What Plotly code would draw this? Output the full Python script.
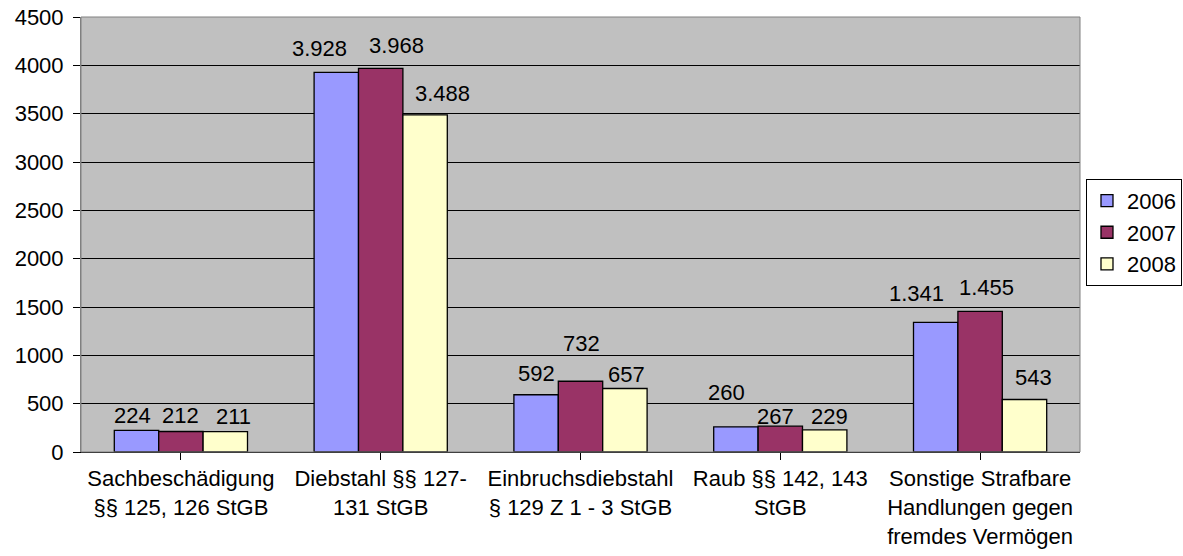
import plotly.graph_objects as go

categories = [
    "Sachbeschädigung<br>§§ 125, 126 StGB",
    "Diebstahl §§ 127-<br>131 StGB",
    "Einbruchsdiebstahl<br>§ 129 Z 1 - 3 StGB",
    "Raub §§ 142, 143<br>StGB",
    "Sonstige Strafbare<br>Handlungen gegen<br>fremdes Vermögen",
]
series_names = ["2006", "2007", "2008"]
values_2006 = [224, 3928, 592, 260, 1341]
values_2007 = [212, 3968, 732, 267, 1455]
values_2008 = [211, 3488, 657, 229, 543]
y_ticks = [0, 500, 1000, 1500, 2000, 2500, 3000, 3500, 4000, 4500]

# styles
colors = ["#9999FF", "#993366", "#FFFFCC"]
label_dx = [[-4, -17, 0, -9, -19], [0, 16, 1, -5, 6], [8, 17, 2, 5, 9]]
label_dy = [[15, 24, 21, 34, 29], [16, 23, 38, 10, 24], [15, 21, 14, 13, 22]]
FONT = "Liberation Sans, Arial, sans-serif"
FS = 22

all_values = [values_2006, values_2007, values_2008]

fig = go.Figure()
for name, vals, col in zip(series_names, all_values, colors):
    fig.add_trace(go.Bar(
        x=list(range(len(categories))), y=vals, name=name,
        marker=dict(color=col, line=dict(color="black", width=1.3)),
    ))

def fmt(v):
    return f"{v:,}".replace(",", ".")

n = len(series_names)
group_frac = 2 / 3
bw = group_frac / n
for j, vals in enumerate(all_values):
    for i, v in enumerate(vals):
        fig.add_annotation(
            x=i + (j - (n - 1) / 2) * bw, y=v, xref="x", yref="y",
            text=fmt(v), showarrow=False,
            xshift=label_dx[j][i], yshift=label_dy[j][i],
            yanchor="middle", xanchor="center",
            font=dict(family=FONT, size=FS, color="black"),
        )

fig.update_layout(
    width=1183, height=556,
    margin=dict(l=81, r=103, t=17, b=104, autoexpand=False),
    paper_bgcolor="white", plot_bgcolor="#C0C0C0",
    barmode="group", bargap=1 - group_frac, bargroupgap=0,
    font=dict(family=FONT, size=FS, color="black"),
    showlegend=True,
    legend=dict(
        x=1.006, xanchor="left", y=0.505, yanchor="middle",
        bordercolor="black", borderwidth=1, bgcolor="white",
        font=dict(family=FONT, size=FS), tracegroupgap=0,
        itemwidth=30,
    ),
)
fig.update_xaxes(
    tickmode="array", tickvals=list(range(len(categories))), ticktext=categories,
    range=[-0.5, len(categories) - 0.5], automargin=False,
    showline=True, linecolor="black", linewidth=1,
    ticks="outside", ticklen=7, tickcolor="black", tickson="boundaries",
    showgrid=False, zeroline=False,
)
fig.update_yaxes(
    range=[0, 4500], tickvals=y_ticks, tickformat="d", automargin=False,
    showline=True, linecolor="#808080", linewidth=1,
    ticks="outside", ticklen=7, tickcolor="black", ticklabelstandoff=5,
    showgrid=True, gridcolor="black", gridwidth=1, zeroline=False,
)
fig.add_shape(type="rect", xref="paper", yref="paper", x0=0, y0=0, x1=1, y1=1,
              line=dict(color="#808080", width=1), layer="above")

fig.write_html("out.html", config={"displayModeBar": False},
               post_script="document.body.style.margin='0';")
